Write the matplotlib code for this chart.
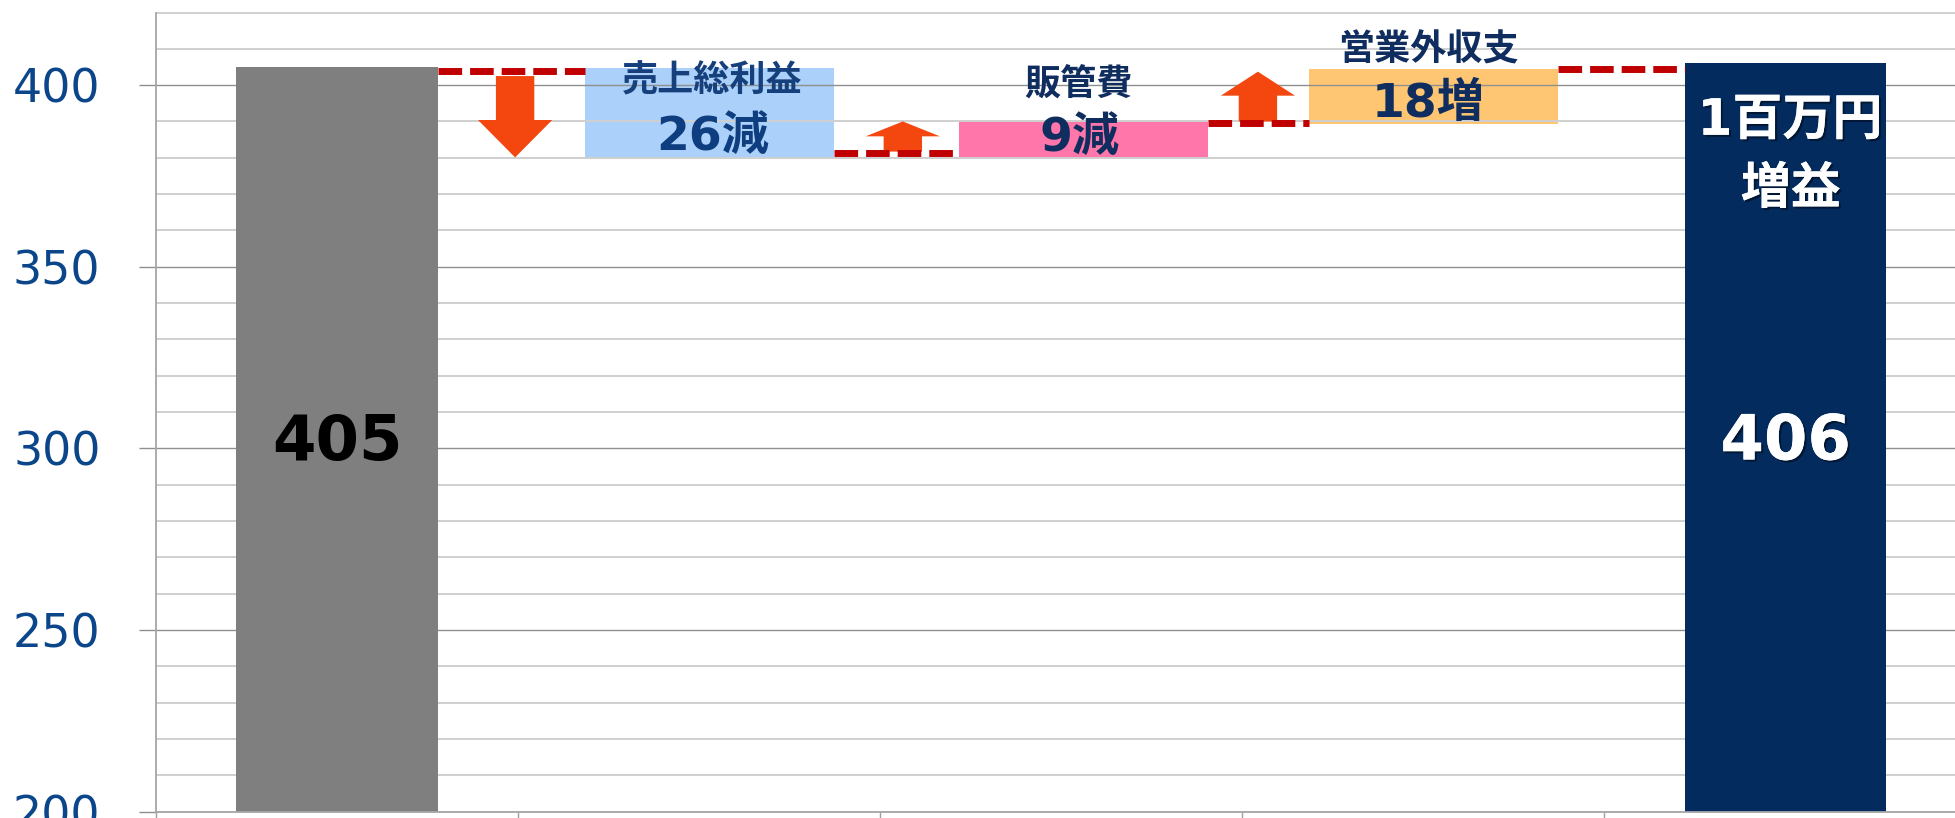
import matplotlib
matplotlib.use("Agg")
import matplotlib.pyplot as plt
import matplotlib.patheffects as pe
from matplotlib.patches import FancyArrow
from matplotlib.ticker import MultipleLocator, FixedLocator, NullFormatter

# ---------------- data ----------------
start_value = 405
end_value = 406
start_label = "405"
end_label = "406"
end_note = ["1百万円", "増益"]

step_names = ["売上総利益", "販管費", "営業外収支"]
step_labels = ["26減", "9減", "18増"]
step_bottoms = [380.0, 380.0, 389.4]      # floating boxes
step_tops = [404.6, 390.0, 404.5]
step_colors = ["#ABD0FA", "#FF77AA", "#FEC672"]

connector_levels = [403.8, 381.3, 389.5, 404.4]
arrow_from = [402.5, 381.7, 390.0]
arrow_to = [380.1, 390.0, 403.7]

y_ticks = [200, 250, 300, 350, 400]

# ---------------- layout ----------------
bar_x = [0.0, 4.002]
bar_w = 0.556
box_x = [1.030, 2.062, 3.030]
box_w = 0.688
arrow_x = [0.492, 1.563, 2.544]
head_len = [10.3, 4.1, 6.6]
name_pos = [(1.037, 401.2), (2.047, 399.9), (3.014, 409.8)]
lab_pos = [(1.039, 385.6), (2.050, 385.3), (3.014, 394.6)]
name_colors = ["#15407C", "#0F2D5E", "#0F2D5E"]
lab_colors = ["#0E3E80", "#0F2D5E", "#0F2D5E"]

W, H = 1955, 818
fig = plt.figure(figsize=(W / 100, H / 100), dpi=100)
ax = fig.add_axes([156 / W, 6.5 / H, 1810 / W, 799 / H])
ax.set_xlim(-0.5, 4.5)
ax.set_ylim(200, 420)

# grid
ax.set_axisbelow(True)
ax.yaxis.set_major_locator(FixedLocator(y_ticks))
ax.yaxis.set_minor_locator(MultipleLocator(10))
ax.grid(axis="y", which="minor", color="#CFCFCF", lw=1.4, zorder=0.5)
ax.grid(axis="y", which="major", color="#8F8F8F", lw=1.0, zorder=0.6)
ax.tick_params(axis="y", which="minor", length=0)
ax.tick_params(axis="y", which="major", length=12, width=1.0, color="#8F8F8F",
               pad=28, labelsize=33, labelcolor="#0B468A")
ax.xaxis.set_major_locator(FixedLocator([-0.5, 0.5, 1.5, 2.5, 3.5]))
ax.xaxis.set_major_formatter(NullFormatter())
ax.tick_params(axis="x", length=10, width=1.0, color="#A0A0A0")
for s in ["top", "right"]:
    ax.spines[s].set_visible(False)
for s in ["left", "bottom"]:
    ax.spines[s].set_color("#A6A6A6")
    ax.spines[s].set_linewidth(1.3)

# start / end bars
ax.bar(bar_x, [start_value, end_value], width=bar_w,
       color=["#7F7F7F", "#032B5E"], zorder=2)

# floating boxes (under the gridlines, as in the reference)
for x, b, t, c in zip(box_x, step_bottoms, step_tops, step_colors):
    ax.bar(x, t - b, bottom=b, width=box_w, color=c, zorder=0.3)

# dashed connectors between box edges
lefts = [bar_x[0] + bar_w / 2] + [x + box_w / 2 for x in box_x]
rights = [x - box_w / 2 for x in box_x] + [bar_x[1] - bar_w / 2]
for l, r, lev in zip(lefts, rights, connector_levels):
    ax.plot([l, r], [lev, lev], color="#C00000", lw=5.0,
            dashes=(3.4, 1.15), solid_capstyle="butt",
            dash_capstyle="butt", zorder=3)

# arrows
for x, a, b, hl in zip(arrow_x, arrow_from, arrow_to, head_len):
    ax.add_patch(FancyArrow(x, a, 0, b - a, width=0.106, head_width=0.205,
                            head_length=hl, length_includes_head=True,
                            color="#F4470F", lw=0, zorder=2.5))

# texts
cjk = ["Noto Sans CJK JP"]
mixed = ["DejaVu Sans", "Noto Sans CJK JP"]
for (x, y), s, c in zip(name_pos, step_names, name_colors):
    ax.text(x, y, s, ha="center", va="center", fontsize=26,
            fontweight="bold", family=cjk, color=c, zorder=4)
for (x, y), s, c in zip(lab_pos, step_labels, lab_colors):
    ax.text(x, y, s, ha="center", va="center", fontsize=34,
            fontweight="bold", family=mixed, color=c, zorder=4)

shadow = [pe.withSimplePatchShadow(offset=(1.5, -1.5), shadow_rgbFace="black",
                                   alpha=0.45), pe.Normal()]
ax.text(bar_x[0], 301.6, start_label, ha="center", va="center", fontsize=45,
        fontweight="bold", family="DejaVu Sans", color="black", zorder=4)
ax.text(bar_x[1], 301.6, end_label, ha="center", va="center", fontsize=45,
        fontweight="bold", family="DejaVu Sans", color="white", zorder=4,
        path_effects=shadow)
ax.text(4.014, 390.2, end_note[0], ha="center", va="center", fontsize=36,
        fontweight="bold", family=mixed, color="white", zorder=4,
        path_effects=shadow)
ax.text(4.016, 371.4, end_note[1], ha="center", va="center", fontsize=36,
        fontweight="bold", family=cjk, color="white", zorder=4,
        path_effects=shadow)

fig.savefig("out.png", dpi=100)
